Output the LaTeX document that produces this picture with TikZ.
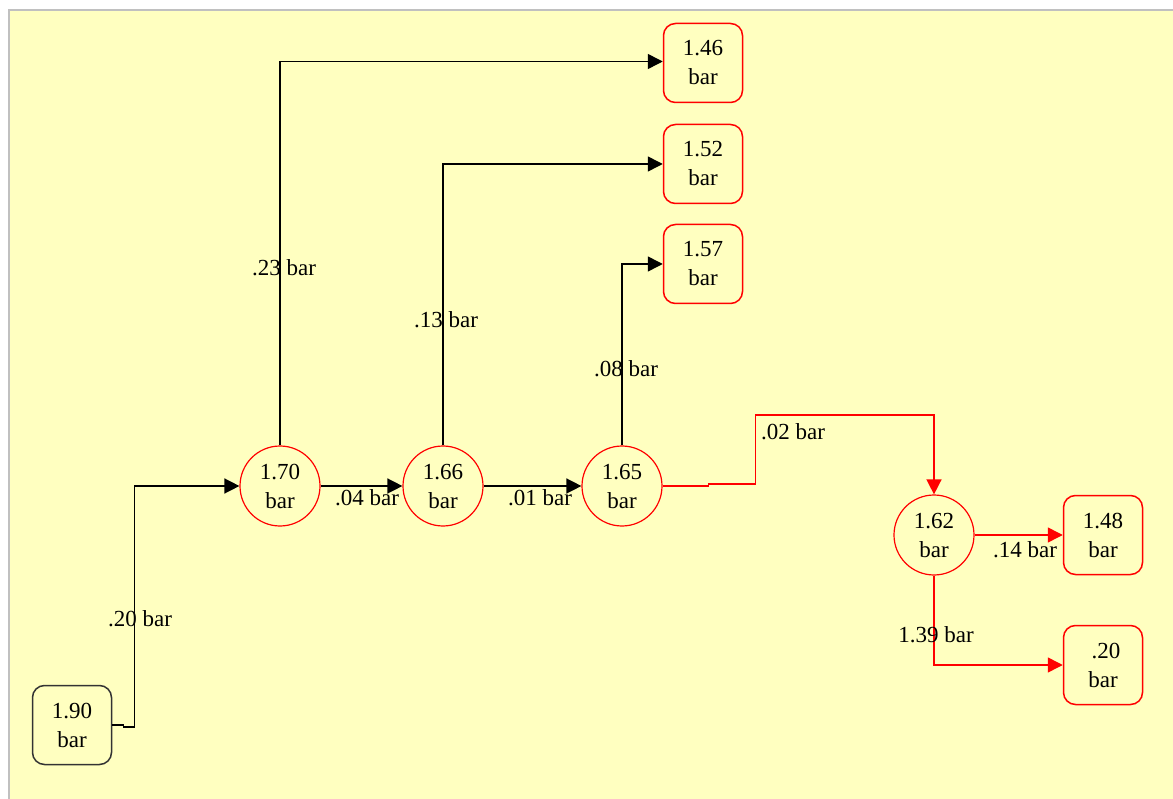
\documentclass[tikz,border=0pt]{standalone}
\usepackage{fontspec}
\setmainfont{Liberation Serif}
\usetikzlibrary{arrows.meta}
\definecolor{bg}{RGB}{255,255,192}
\definecolor{frame}{RGB}{192,192,192}
\definecolor{ink}{RGB}{51,51,51}
\begin{document}
\begin{tikzpicture}[x=1pt,y=-1pt,
  every node/.style={font=\fontsize{23}{29}\selectfont, text=black},
  rbox/.style={draw=red, line width=1.5pt, rounded corners=12pt, minimum width=79pt, minimum height=79pt, inner sep=0pt, align=center},
  bbox/.style={rbox, draw=ink},
  rcirc/.style={draw=red, line width=1.2pt, circle, minimum size=80pt, inner sep=0pt, align=center},
  edge/.style={line width=1.5pt, -{Triangle[length=15pt,width=15pt]}},
  redge/.style={edge, draw=red, -{Triangle[length=15pt,width=15pt,fill=red]}},
  lbl/.style={inner sep=0pt}
]
\useasboundingbox (0,0) rectangle (1173,799);
\fill[white] (0,0) rectangle (1173,799);
\fill[bg] (9,10) rectangle (1173,799);
\draw[frame, line width=2pt] (9,799) -- (9,10) -- (1173,10);

\node[bbox] (n190) at (72,725) {1.90\\bar};
\node[rcirc] (n170) at (280,486) {1.70\\bar};
\node[rcirc] (n166) at (443,486) {1.66\\bar};
\node[rcirc] (n165) at (622,486) {1.65\\bar};
\node[rcirc] (n162) at (934,535) {1.62\\bar};
\node[rbox] (n146) at (703,63) {1.46\\bar};
\node[rbox] (n152) at (703,164) {1.52\\bar};
\node[rbox] (n157) at (703,264) {1.57\\bar};
\node[rbox] (n148) at (1103,535) {1.48\\bar};
\node[rbox] (n020) at (1103,665) {\hspace*{6pt}.20\\bar};

\draw[edge] (n190.east) -- ++(11,0) -- ++(0,2) -- ++(11,0) |- (n170.west);
\draw[edge] (n170.north) |- ([yshift=1.5pt]n146.west);
\draw[edge] (n170.east) -- (n166.west);
\draw[edge] (n166.north) |- (n152.west);
\draw[edge] (n166.east) -- (n165.west);
\draw[edge] (n165.north) |- (n157.west);
\draw[redge] (n165.east) -- ++(46,0) -- ++(0,-2) -- ++(47,0) -- ++(0,-69) -| (n162.north);
\draw[redge] (n162.east) -- (n148.west);
\draw[redge] (n162.south) |- (n020.west);

\node[lbl] (l1) at (140,619) {.20 bar};
\node[lbl] (l2) at (284,268) {.23 bar};
\node[lbl] (l3) at (367,498) {.04 bar};
\node[lbl] (l4) at (446,320) {.13 bar};
\node[lbl] (l5) at (540,498) {.01 bar};
\node[lbl] (l6) at (626,369) {.08 bar};
\node[lbl] (l7) at (793,432) {.02 bar};
\node[lbl] (l8) at (1025,550) {.14 bar};
\node[lbl] (l9) at (936,635) {1.39 bar};
\end{tikzpicture}
\end{document}
